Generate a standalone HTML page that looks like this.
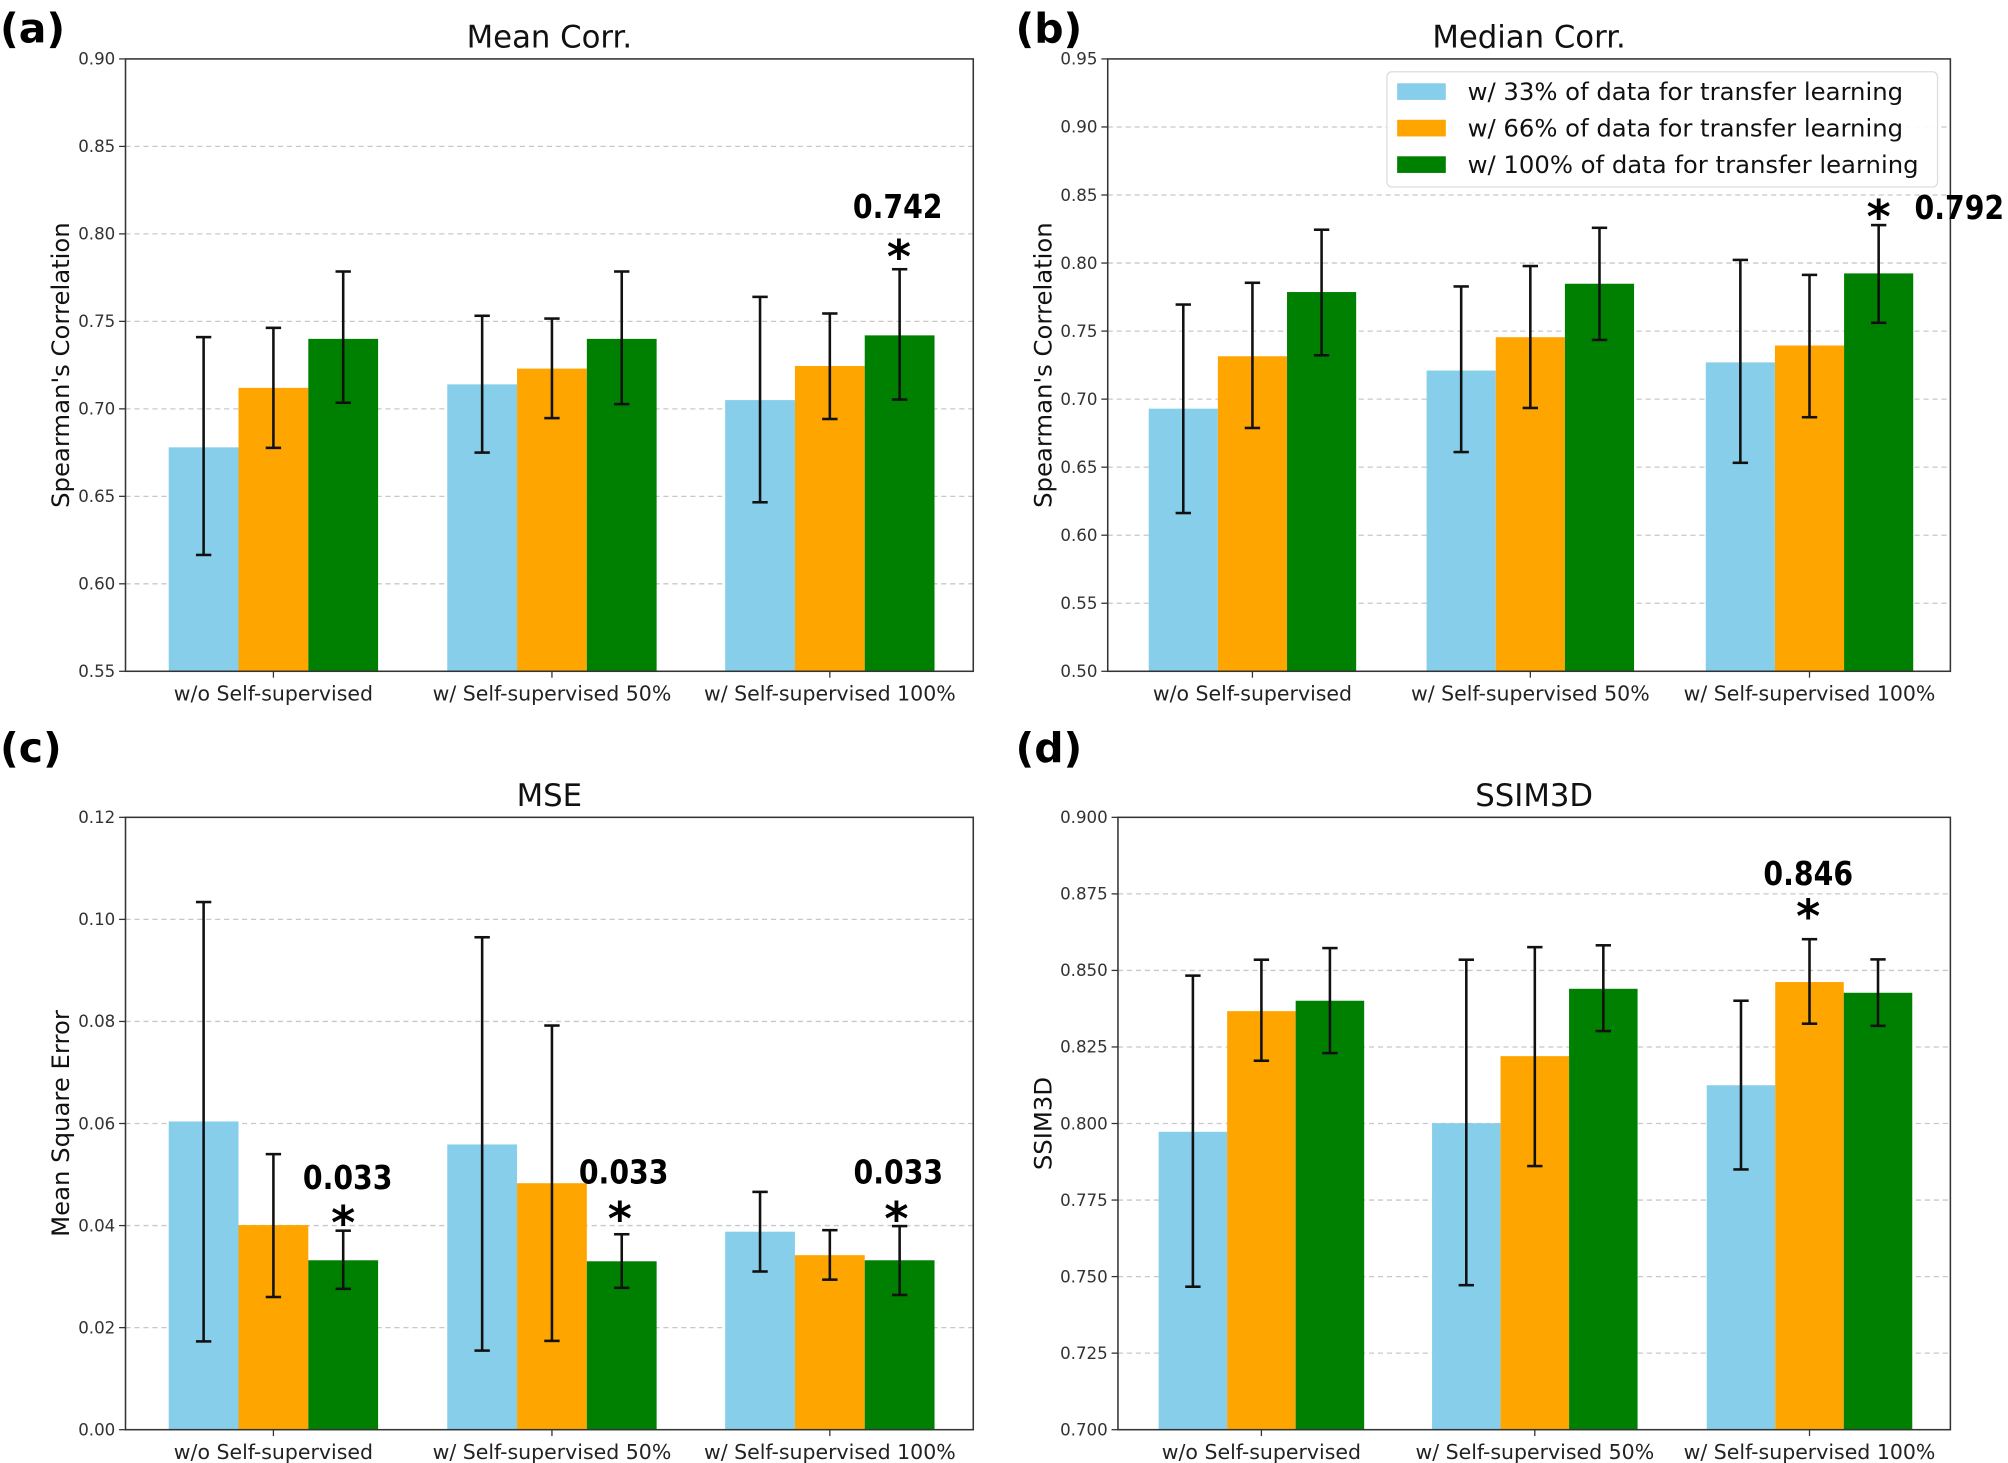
<!DOCTYPE html>
<html><head><meta charset="utf-8"><style>
html,body{margin:0;padding:0;background:#fff}
svg{display:block}
text{font-family:"DejaVu Sans","Liberation Sans",sans-serif}
</style></head><body>
<svg id="fig" width="2008" height="1463" viewBox="0 0 1568 1142" preserveAspectRatio="none" xmlns="http://www.w3.org/2000/svg"></svg>
<script>
const categories = ["w/o Self-supervised","w/ Self-supervised 50%","w/ Self-supervised 100%"];
const seriesNames = ["w/ 33% of data for transfer learning","w/ 66% of data for transfer learning","w/ 100% of data for transfer learning"];
const colors = ["#87CEEB","#FFA500","#008000"];

const meanVals = [[0.678,0.714,0.705],[0.712,0.723,0.7245],[0.740,0.740,0.742]];
const meanLo = [[0.6165,0.675,0.6466],[0.6777,0.6947,0.6942],[0.7035,0.7027,0.7053]];
const meanHi = [[0.741,0.7532,0.764],[0.7463,0.7516,0.7545],[0.7785,0.7785,0.7798]];
const meanTicks = ["0.55","0.60","0.65","0.70","0.75","0.80","0.85","0.90"];

const medVals = [[0.693,0.721,0.727],[0.7315,0.7455,0.7394],[0.7787,0.7848,0.7924]];
const medLo = [[0.6163,0.6611,0.6532],[0.6788,0.6935,0.6867],[0.7322,0.7435,0.7561]];
const medHi = [[0.7695,0.7828,0.8023],[0.7855,0.7978,0.7913],[0.8245,0.8259,0.8279]];
const medTicks = ["0.50","0.55","0.60","0.65","0.70","0.75","0.80","0.85","0.90","0.95"];

const mseVals = [[0.0604,0.0559,0.0388],[0.0401,0.0483,0.0342],[0.0332,0.033,0.0332]];
const mseLo = [[0.0173,0.0155,0.031],[0.026,0.0174,0.0294],[0.0276,0.0278,0.0264]];
const mseHi = [[0.1034,0.0965,0.0466],[0.054,0.0792,0.0391],[0.039,0.0383,0.0399]];
const mseTicks = ["0.00","0.02","0.04","0.06","0.08","0.10","0.12"];

const ssimVals = [[0.7973,0.8001,0.8125],[0.8367,0.822,0.8462],[0.8401,0.844,0.8427]];
const ssimLo = [[0.7467,0.7472,0.785],[0.8205,0.7861,0.8326],[0.823,0.8302,0.8319]];
const ssimHi = [[0.8483,0.8535,0.8401],[0.8535,0.8576,0.8602],[0.8573,0.8582,0.8536]];
const ssimTicks = ["0.700","0.725","0.750","0.775","0.800","0.825","0.850","0.875","0.900"];

const NS="http://www.w3.org/2000/svg";
const svg=document.getElementById('fig');
function el(tag,attrs,parent,txt){const e=document.createElementNS(NS,tag);for(const k in attrs)e.setAttribute(k,attrs[k]);if(txt!==undefined)e.textContent=txt;(parent||svg).appendChild(e);return e;}
const COND='"DejaVu Sans Condensed","DejaVu Sans",sans-serif';

function panel(o){
  const g=el('g',{});
  
  
  const lo=+o.ticks[0], hi=+o.ticks[o.ticks.length-1];
  const y=v=>o.y1-(v-lo)/(hi-lo)*(o.y1-o.y0);
  o.ticks.forEach(t=>{
    const yy=y(+t);
    if(+t!==lo&&+t!==hi){const gl=el('line',{x1:o.x0,x2:o.x1,y1:yy,y2:yy,stroke:'#c8c8c8','stroke-dasharray':'4,3','stroke-width':1},g);
      
      }
    el('line',{x1:o.x0-5,x2:o.x0,y1:yy,y2:yy,stroke:'#333','stroke-width':1},g);
    const tl=el('text',{x:o.x0-8,y:yy+4.5,'text-anchor':'end','font-size':13,fill:'#333','font-family':COND},g,t);
    
    
  });
  const bw=o.bw;
  categories.forEach((c,i)=>{
    const cx=o.cx[i];
    el('line',{x1:cx,x2:cx,y1:o.y1,y2:o.y1+5,stroke:'#333'},g);
    const xl=el('text',{x:cx,y:o.y1+23,'text-anchor':'middle','font-size':16,fill:'#222','font-family':COND},g,c);
    
    
    for(let s=0;s<3;s++){
      const bx=cx+(s-1.5)*bw;
      const v=o.vals[s][i];
      const r=el('rect',{x:bx,y:y(v),width:bw,height:o.y1-y(v),fill:colors[s]},g);
      
      
    }
  });
  categories.forEach((c,i)=>{
    for(let s=0;s<3;s++){
      const ex=o.cx[i]+(s-1)*bw;
      const ya=y(o.hiv[s][i]), yb=y(o.lov[s][i]);
      const eg=el('g',{stroke:'#111','stroke-width':2},g);
      
      
      el('line',{x1:ex,x2:ex,y1:ya,y2:yb},eg);
      el('line',{x1:ex-6,x2:ex+6,y1:ya,y2:ya},eg);
      el('line',{x1:ex-6,x2:ex+6,y1:yb,y2:yb},eg);
    }
  });
  el('rect',{x:o.x0,y:o.y0,width:o.x1-o.x0,height:o.y1-o.y0,fill:'none',stroke:'#333','stroke-width':1.2},g);
  const tt=el('text',{x:(o.x0+o.x1)/2,y:o.y0-9,'text-anchor':'middle','font-size':24,fill:'#111','font-family':COND},g,o.title);
  
  
  const yl=el('text',{x:0,y:0,'text-anchor':'middle','font-size':19,fill:'#111',transform:`translate(${o.ylx},${(o.y0+o.y1)/2}) rotate(-90)`},g,o.ylabel);
  
  
  const pl=el('text',{x:o.px,y:o.py,'font-size':32,'font-weight':'bold',fill:'#000'},g,o.plabel);
  
  
  (o.annots||[]).forEach(a=>{
    const at=el('text',{x:a[0],y:a[1],'text-anchor':a[4]||'middle','font-size':26,'font-weight':'bold',fill:'#000','font-family':COND,textLength:70,lengthAdjust:'spacingAndGlyphs'},g,a[2]);
    
    
    const st=el('text',{x:a[3][0],y:a[3][1],'text-anchor':'middle','font-size':36,'font-weight':'bold',fill:'#000'},g,'*');
    
    
  });
  return g;
}

panel({name:'panel-a',x0:98,x1:760,y0:46,y1:524,cx:[213.5,431,648],bw:54.5,vals:meanVals,lov:meanLo,hiv:meanHi,ticks:meanTicks,title:'Mean Corr.',ylabel:"Spearman's Correlation",ylx:54,plabel:'(a)',px:0,py:33,
  annots:[[701,170,'0.742',[702,213]]]});
panel({name:'panel-b',x0:865,x1:1523,y0:46,y1:524,cx:[978,1195,1413],bw:54,vals:medVals,lov:medLo,hiv:medHi,ticks:medTicks,title:'Median Corr.',ylabel:"Spearman's Correlation",ylx:821,plabel:'(b)',px:793,py:33,
  annots:[[1495,171,'0.792',[1467,182],'start']]});
panel({name:'panel-c',x0:98,x1:760,y0:638,y1:1116,cx:[213.5,431,648],bw:54.5,vals:mseVals,lov:mseLo,hiv:mseHi,ticks:mseTicks,title:'MSE',ylabel:'Mean Square Error',ylx:54,plabel:'(c)',px:0,py:595,
  annots:[[271.5,928,'0.033',[268,967]],[487,924,'0.033',[484,964]],[701.5,924,'0.033',[700,964]]]});
panel({name:'panel-d',x0:873,x1:1523,y0:638,y1:1116,cx:[985,1198.5,1413],bw:53.5,vals:ssimVals,lov:ssimLo,hiv:ssimHi,ticks:ssimTicks,title:'SSIM3D',ylabel:'SSIM3D',ylx:821,plabel:'(d)',px:793,py:595,
  annots:[[1412,691,'0.846',[1412,728]]]});

const lg=el('g',{});


el('rect',{x:1083,y:56,width:430,height:90,rx:4,fill:'#fff','fill-opacity':0.9,stroke:'#ddd'},lg);
seriesNames.forEach((n,s)=>{
  const yy=71+s*28.5;
  const sw=el('rect',{x:1091,y:yy-6,width:38,height:13,fill:colors[s]},lg);
  
  
  const lt=el('text',{x:1146,y:yy+7,'font-size':19,fill:'#111','font-family':COND},lg,n);
  
  
});
</script>
</body></html>
